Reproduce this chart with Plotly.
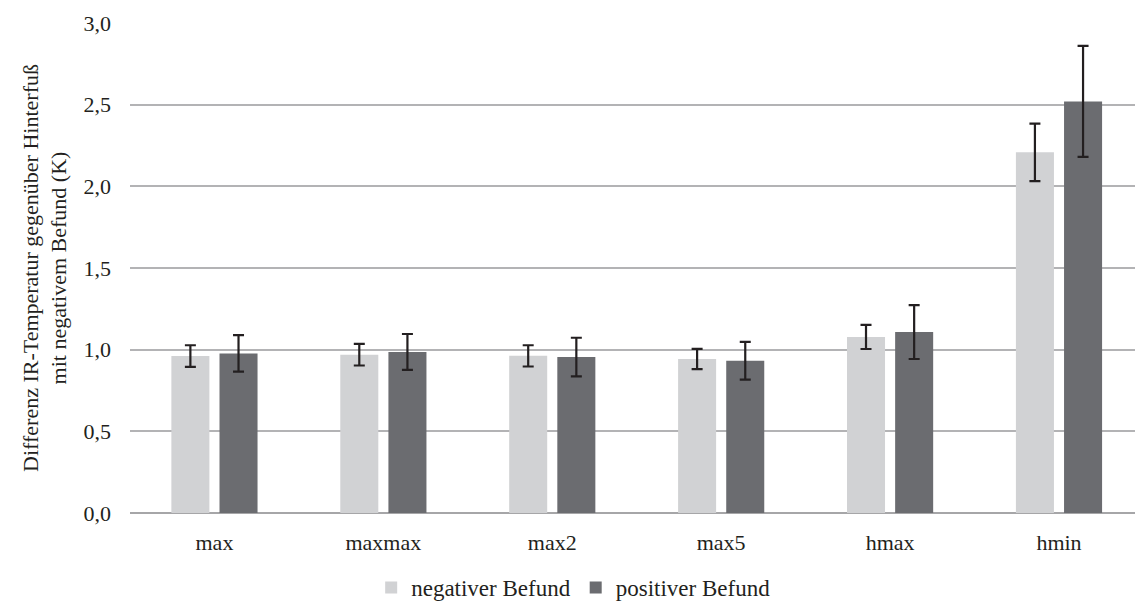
import plotly.graph_objects as go

categories = ["max", "maxmax", "max2", "max5", "hmax", "hmin"]
negativ_values = [0.961, 0.969, 0.962, 0.943, 1.078, 2.208]
negativ_errors = [0.066, 0.066, 0.065, 0.062, 0.074, 0.176]
positiv_values = [0.977, 0.986, 0.955, 0.932, 1.108, 2.520]
positiv_errors = [0.112, 0.110, 0.118, 0.116, 0.165, 0.340]
y_ticks = [0, 0.5, 1.0, 1.5, 2.0, 2.5, 3.0]

serif = "Liberation Serif, Times New Roman, serif"
err_style = dict(type="data", visible=True, color="#231f20", thickness=2.2, width=5.5)

fig = go.Figure()
fig.add_trace(go.Bar(
    name="negativer Befund", x=categories, y=negativ_values,
    marker=dict(color="#d1d2d4", line=dict(width=0)),
    error_y=dict(array=negativ_errors, **err_style),
))
fig.add_trace(go.Bar(
    name="positiver Befund", x=categories, y=positiv_values,
    marker=dict(color="#6b6c70", line=dict(width=0)),
    error_y=dict(array=positiv_errors, **err_style),
))

fig.update_layout(
    width=1135, height=606,
    margin=dict(l=130, r=0, t=23, b=93, autoexpand=False),
    paper_bgcolor="white", plot_bgcolor="white",
    font=dict(family=serif, size=22, color="#231f20"),
    barmode="group", bargap=0.43, bargroupgap=0.21,
    separators=",.",
    showlegend=True,
    legend=dict(orientation="h", x=0.505, xanchor="center", xref="container",
                y=-0.152, yanchor="middle", yref="paper",
                font=dict(size=23), traceorder="normal",
                itemwidth=30, tracegroupgap=0),
    xaxis=dict(range=[-0.5, 5.45], showgrid=False, showline=False, ticks="",
               tickfont=dict(size=22), ticklabelstandoff=14, automargin=False),
    yaxis=dict(range=[0, 3.0], tickvals=y_ticks, tickformat=".1f",
               showgrid=True, gridcolor="#b3b3b5", gridwidth=1.6,
               zeroline=True, zerolinecolor="#a6a6a8", zerolinewidth=2,
               showline=False, ticks="", tickfont=dict(size=22),
               ticklabelstandoff=18, automargin=False,
               title=dict(text="Differenz IR-Temperatur gegenüber Hinterfuß<br>mit negativem Befund (K)",
                          font=dict(size=22), standoff=10)),
)

fig.write_html("out.html")
